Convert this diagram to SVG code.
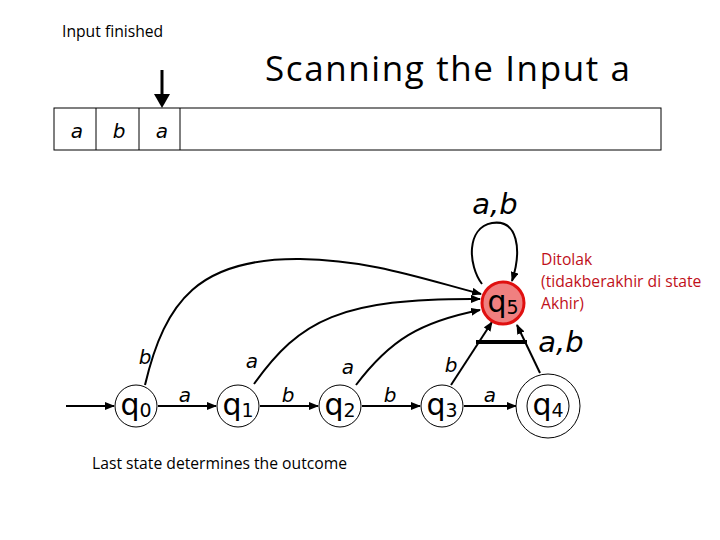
<svg xmlns="http://www.w3.org/2000/svg" width="720" height="540" viewBox="0 0 720 540">
<defs>
<marker id="ah" markerWidth="10" markerHeight="8" refX="9" refY="4" orient="auto" markerUnits="userSpaceOnUse">
<path d="M0,0 L10,4 L0,8 z" fill="#000"/>
</marker>
<style>
.st{fill:#fff;stroke:#000;stroke-width:1}
.sl{font-family:"DejaVu Sans",sans-serif;font-size:30px;fill:#000}
.sub{font-size:19px}
.el{font-family:"DejaVu Sans",sans-serif;font-size:20px;font-style:oblique;fill:#000}
.big{font-size:29px}
.ed{fill:none;stroke:#000;stroke-width:2}
.cap{font-family:"Open Sans","Liberation Sans",sans-serif;font-size:15.7px;fill:#000}
.red{font-family:"Open Sans","Liberation Sans",sans-serif;font-size:15.7px;fill:#c0101a}
</style>
</defs>
<rect width="720" height="540" fill="#fff"/>
<text class="cap" x="62" y="37">Input finished</text>
<text x="265" y="81" font-family="'Open Sans','Liberation Sans',sans-serif" font-size="35" textLength="365" fill="#000">Scanning the Input a</text>
<g id="tape">
<rect x="54" y="108" width="607" height="42" fill="#fff" stroke="#000" stroke-width="1"/>
<line x1="96" y1="108" x2="96" y2="150" stroke="#000"/>
<line x1="139" y1="108" x2="139" y2="150" stroke="#000"/>
<line x1="180" y1="108" x2="180" y2="150" stroke="#000"/>
<text class="el" x="77" y="138" text-anchor="middle">a</text>
<text class="el" x="119" y="138" text-anchor="middle">b</text>
<text class="el" x="162" y="138" text-anchor="middle">a</text>
</g>
<g id="head">
<line x1="162" y1="70" x2="162" y2="96" stroke="#000" stroke-width="3"/>
<path d="M154,94 L170,94 L162,108 z" fill="#000"/>
</g>
<g id="connectors">
<line class="ed" x1="66" y1="406" x2="114" y2="406" marker-end="url(#ah)"/>
<line class="ed" x1="158" y1="406" x2="216" y2="406" marker-end="url(#ah)"/>
<line class="ed" x1="260" y1="406" x2="318" y2="406" marker-end="url(#ah)"/>
<line class="ed" x1="362" y1="406" x2="420" y2="406" marker-end="url(#ah)"/>
<line class="ed" x1="464" y1="406" x2="516" y2="406" marker-end="url(#ah)"/>
<path class="ed" d="M145,385 C165,300 200,258 300,259 C370,260 420,278 481,294" marker-end="url(#ah)"/>
<path class="ed" d="M254,384 C300,320 340,298 480,299" marker-end="url(#ah)"/>
<path class="ed" d="M356,385 C390,340 420,322 480,310" marker-end="url(#ah)"/>
<line class="ed" x1="451" y1="385" x2="492" y2="322" marker-end="url(#ah)"/>
<line class="ed" x1="540" y1="373" x2="517" y2="325" marker-end="url(#ah)"/>
<line x1="476" y1="342" x2="527" y2="342" stroke="#000" stroke-width="4"/>
<path class="ed" d="M482,284 C468,265 466,228 492,223 C518,219 522,250 512,281" marker-end="url(#ah)"/>
</g>
<g id="labels">
<text class="el" x="145" y="364" text-anchor="middle">b</text>
<text class="el" x="252" y="368" text-anchor="middle">a</text>
<text class="el" x="348" y="374" text-anchor="middle">a</text>
<text class="el" x="451" y="372" text-anchor="middle">b</text>
<text class="el" x="185" y="402" text-anchor="middle">a</text>
<text class="el" x="288" y="402" text-anchor="middle">b</text>
<text class="el" x="390" y="402" text-anchor="middle">b</text>
<text class="el" x="490" y="402" text-anchor="middle">a</text>
<text class="el big" x="495" y="214" text-anchor="middle">a,b</text>
<text class="el big" x="561" y="352" text-anchor="middle">a,b</text>
</g>
<g id="q0"><circle class="st" cx="136" cy="406" r="21"/><text class="sl" x="136" y="415" text-anchor="middle">q<tspan class="sub" dy="2">0</tspan></text></g>
<g id="q1"><circle class="st" cx="238" cy="406" r="21"/><text class="sl" x="238" y="415" text-anchor="middle">q<tspan class="sub" dy="2">1</tspan></text></g>
<g id="q2"><circle class="st" cx="340" cy="406" r="21"/><text class="sl" x="340" y="415" text-anchor="middle">q<tspan class="sub" dy="2">2</tspan></text></g>
<g id="q3"><circle class="st" cx="442" cy="406" r="21"/><text class="sl" x="442" y="415" text-anchor="middle">q<tspan class="sub" dy="2">3</tspan></text></g>
<g id="q4"><circle class="st" cx="548" cy="406" r="32"/><circle class="st" cx="548" cy="406" r="21"/><text class="sl" x="548" y="415" text-anchor="middle">q<tspan class="sub" dy="2">4</tspan></text></g>
<g id="q5"><circle cx="503" cy="303" r="21" fill="#f08080" stroke="#e01010" stroke-width="3"/><text class="sl" x="503" y="312" text-anchor="middle">q<tspan class="sub" dy="2">5</tspan></text></g>
<g id="note">
<text class="red" x="541" y="265">Ditolak</text>
<text class="red" x="541" y="287">(tidakberakhir di state</text>
<text class="red" x="541" y="309">Akhir)</text>
</g>
<text class="cap" x="92" y="469">Last state determines the outcome</text>
</svg>
